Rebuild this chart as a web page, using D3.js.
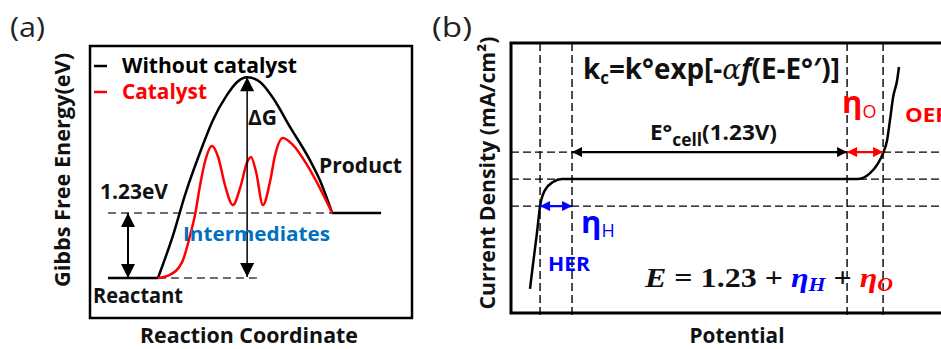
<!DOCTYPE html>
<html><head><meta charset="utf-8">
<script src="https://cdn.jsdelivr.net/npm/d3@7"></script>
<style>
html,body{margin:0;padding:0;background:#fff;overflow:hidden}
svg{display:block}
text{font-family:"Open Sans","Noto Sans",sans-serif;font-weight:700;fill:#111}
</style></head><body>
<svg id="fig" width="941" height="349"></svg>
<script>
// ---------- Panel (a): energy profile, reaction coordinate (0–10) vs. Gibbs free energy (eV)
const uncatCoord  = [2.11, 2.58, 2.95, 3.42, 3.82, 4.25, 4.57, 4.88, 5.28, 5.68, 6.21, 6.83, 7.14, 7.52];
const uncatEnergy = [0.00, 0.81, 1.57, 2.38, 2.99, 3.46, 3.71, 3.80, 3.71, 3.41, 2.86, 2.23, 1.85, 1.23];
const catCoord    = [2.11, 2.48, 2.86, 3.11, 3.26, 3.42, 3.57, 3.79, 3.98, 4.19, 4.44, 4.66, 4.88, 5.00, 5.16, 5.37, 5.59, 5.75, 5.99, 6.30, 6.74, 7.14, 7.52];
const catEnergy   = [0.00, 0.06, 0.30, 0.81, 1.19, 1.76, 2.20, 2.50, 2.29, 1.76, 1.38, 1.70, 2.19, 2.29, 2.00, 1.38, 1.82, 2.33, 2.65, 2.52, 2.14, 1.70, 1.23];
const levelNames  = ["Reactant", "Product"];
const levelEnergy = [0, 1.23];
const levelStart  = [0.56, 7.52];
const levelEnd    = [2.11, 9.04];
const legendNames = ["Without catalyst", "Catalyst"];
const deltaGCoord = 4.88;   // where the ΔG arrow stands
const gapCoord    = 1.18;   // where the 1.23 eV arrow stands

// ---------- Panel (b): polarization curve, potential (V) vs. current density (mA/cm²)
const potential      = [-0.188, -0.174, -0.157, -0.143, -0.121, -0.085, -0.045, 0.000, 1.230, 1.275, 1.333, 1.369, 1.391, 1.409, 1.422, 1.436, 1.454, 1.462];
const currentDensity = [-40.7, -31.1, -20.0, -10.0, -4.1, -1.1, 0.0, 0.0, 0.0, 0.0, 2.2, 5.9, 9.6, 14.4, 21.9, 30.4, 36.7, 41.5];
const eCell = 1.23, etaH = 0.143, etaO = 0.161;
const jLevels = [10, 0, -10];

const RED = "#ff0000", BLUE = "#0000ff", MIDBLUE = "#0070c0";
const svg = d3.select("#fig");

// arrowhead markers
const defs = svg.append("defs");
function marker(id, color, len, wid) {
  defs.append("marker").attr("id", id)
    .attr("viewBox", "0 0 10 10").attr("refX", 10).attr("refY", 5)
    .attr("markerUnits", "userSpaceOnUse")
    .attr("markerWidth", len).attr("markerHeight", wid)
    .attr("orient", "auto-start-reverse")
    .append("path").attr("d", "M0,0L10,5L0,10Z").attr("fill", color);
}
marker("bigK", "#000", 15, 14);
marker("smK", "#000", 11, 10);
marker("smR", RED, 11, 10);
marker("smB", BLUE, 11, 10);

// ================= Panel (a) =================
const xA = d3.scaleLinear().domain([0, 10]).range([90, 412]);
const yA = d3.scaleLinear().domain([-0.757, 4.39]).range([318, 46]);
const gA = svg.append("g");

gA.append("rect").attr("x", xA(0)).attr("y", yA(4.39))
  .attr("width", xA(10) - xA(0)).attr("height", yA(-0.757) - yA(4.39))
  .attr("fill", "none").attr("stroke", "#000").attr("stroke-width", 2.5);

// dashed reference levels
gA.append("line").attr("x1", xA(levelStart[0])).attr("x2", xA(levelStart[1]))
  .attr("y1", yA(levelEnergy[1])).attr("y2", yA(levelEnergy[1]))
  .attr("stroke", "#6e6e6e").attr("stroke-width", 1.8).attr("stroke-dasharray", "8,5");
gA.append("line").attr("x1", xA(levelEnd[0])).attr("x2", xA(5.19))
  .attr("y1", yA(levelEnergy[0])).attr("y2", yA(levelEnergy[0]))
  .attr("stroke", "#6e6e6e").attr("stroke-width", 1.8).attr("stroke-dasharray", "8,5");

// reactant / product levels
levelNames.forEach((n, i) => {
  gA.append("line").attr("x1", xA(levelStart[i])).attr("x2", xA(levelEnd[i]))
    .attr("y1", yA(levelEnergy[i])).attr("y2", yA(levelEnergy[i]))
    .attr("stroke", "#000").attr("stroke-width", 2.5);
});

const lineA = d3.line().x(d => xA(d[0])).y(d => yA(d[1])).curve(d3.curveMonotoneX);
gA.append("path").attr("d", lineA(uncatCoord.map((c, i) => [c, uncatEnergy[i]])))
  .attr("fill", "none").attr("stroke", "#000").attr("stroke-width", 2.5);
gA.append("path").attr("d", lineA(catCoord.map((c, i) => [c, catEnergy[i]])))
  .attr("fill", "none").attr("stroke", RED).attr("stroke-width", 2.5);

// ΔG arrow
gA.append("line").attr("x1", xA(deltaGCoord)).attr("x2", xA(deltaGCoord))
  .attr("y1", yA(d3.max(uncatEnergy))).attr("y2", yA(0) - 1)
  .attr("stroke", "#000").attr("stroke-width", 1.5)
  .attr("marker-start", "url(#bigK)").attr("marker-end", "url(#bigK)");
// 1.23 eV arrow
gA.append("line").attr("x1", xA(gapCoord)).attr("x2", xA(gapCoord))
  .attr("y1", yA(levelEnergy[1])).attr("y2", yA(levelEnergy[0]))
  .attr("stroke", "#000").attr("stroke-width", 2)
  .attr("marker-start", "url(#bigK)").attr("marker-end", "url(#bigK)");

// legend
[["#000", 66, 73], [RED, 92, 99]].forEach(([c, ly, ty], i) => {
  gA.append("line").attr("x1", 94).attr("x2", 107).attr("y1", ly).attr("y2", ly)
    .attr("stroke", c).attr("stroke-width", 2.5);
  gA.append("text").attr("x", 122).attr("y", ty).attr("font-size", 21)
    .attr("textLength", i ? 85 : 175).attr("lengthAdjust", "spacingAndGlyphs")
    .style("fill", c).text(legendNames[i]);
});

function label(g, s, x, y, size, len, color, anchor) {
  const t = g.append("text").attr("x", x).attr("y", y).attr("font-size", size)
    .attr("textLength", len).attr("lengthAdjust", "spacingAndGlyphs").text(s);
  if (color) t.style("fill", color);
  if (anchor) t.attr("text-anchor", anchor);
  return t;
}
label(gA, "(a)", 10, 37, 27, 35).style("font-weight", 400).style("fill", "#222");
label(gA, "1.23eV", 100, 199, 21, 68);
label(gA, "ΔG", 248, 125, 21, 29);
label(gA, "Product", 319, 173, 21, 83);
label(gA, "Intermediates", 183, 241, 20, 147, MIDBLUE);
label(gA, levelNames[0], 93, 303, 21, 90);
label(gA, "Reaction Coordinate", 249, 343, 21, 218, null, "middle");
gA.append("text").attr("transform", "translate(70,170) rotate(-90)")
  .attr("text-anchor", "middle").attr("font-size", 21)
  .attr("textLength", 234).attr("lengthAdjust", "spacingAndGlyphs")
  .text("Gibbs Free Energy(eV)");

// ================= Panel (b) =================
const xB = d3.scaleLinear().domain([-0.273, 1.65]).range([511, 941]);
const yB = d3.scaleLinear().domain([-49.6, 50.4]).range([313, 43]);
const gB = svg.append("g");

const dashB = "8,4";
const vLines = [-etaH, 0, eCell, eCell + etaO];
vLines.forEach(v => {
  gB.append("line").attr("x1", xB(v)).attr("x2", xB(v))
    .attr("y1", yB(50.4)).attr("y2", yB(-49.6) + 4)
    .attr("stroke", "#000").attr("stroke-width", 1.4).attr("stroke-dasharray", dashB);
});
jLevels.forEach(j => {
  gB.append("line").attr("x1", 511).attr("x2", 960)
    .attr("y1", yB(j)).attr("y2", yB(j))
    .attr("stroke", "#000").attr("stroke-width", 1.4).attr("stroke-dasharray", dashB);
});

// frame (open to the right edge)
gB.append("path")
  .attr("d", `M960,${yB(50.4)}H${xB(-0.273)}V${yB(-49.6)}H960`)
  .attr("fill", "none").attr("stroke", "#000").attr("stroke-width", 3);

const lineB = d3.line().x(d => xB(d[0])).y(d => yB(d[1])).curve(d3.curveMonotoneX);
gB.append("path").attr("d", lineB(potential.map((p, i) => [p, currentDensity[i]])))
  .attr("fill", "none").attr("stroke", "#000").attr("stroke-width", 2.5);

// overpotential / cell-voltage arrows
function hArrow(x0, x1, y, color, m) {
  gB.append("line").attr("x1", xB(x0)).attr("x2", xB(x1)).attr("y1", yB(y)).attr("y2", yB(y))
    .attr("stroke", color).attr("stroke-width", 2.2)
    .attr("marker-start", `url(#${m})`).attr("marker-end", `url(#${m})`);
}
hArrow(-etaH, 0, jLevels[2], BLUE, "smB");
hArrow(0, eCell, jLevels[0], "#000", "smK");
hArrow(eCell, eCell + etaO, jLevels[0], RED, "smR");

label(gB, "(b)", 432, 37, 27, 40).style("font-weight", 400).style("fill", "#222");
label(gB, "Potential", 737, 343, 21, 95, null, "middle");
gB.append("text").attr("transform", "translate(495,173) rotate(-90)")
  .attr("text-anchor", "middle").attr("font-size", 21)
  .attr("textLength", 273).attr("lengthAdjust", "spacingAndGlyphs")
  .text("Current Density (mA/cm²)");

// rate expression
const kt = gB.append("text").attr("x", 583).attr("y", 79).attr("font-size", 28)
  .attr("textLength", 257).attr("lengthAdjust", "spacingAndGlyphs");
kt.append("tspan").text("k");
kt.append("tspan").attr("font-size", 17).attr("dy", 5).text("c");
kt.append("tspan").attr("dy", -5).text("=k°exp[-");
kt.append("tspan").style("font-family", "'DejaVu Serif',serif").style("font-style", "italic").style("font-weight", 400).text("α");
kt.append("tspan").style("font-style", "italic").text("f");
kt.append("tspan").text("(E-E°′)]");

// standard cell potential
const et = gB.append("text").attr("x", 650).attr("y", 140).attr("font-size", 22)
  .attr("textLength", 127).attr("lengthAdjust", "spacingAndGlyphs");
et.append("tspan").text("E°");
et.append("tspan").attr("font-size", 17).attr("dy", 6).text("cell");
et.append("tspan").attr("dy", -6).text("(1.23V)");

// overpotential symbols
function eta(x, y, sub, color, sy) {
  const t = gB.append("text").attr("x", x).attr("y", y).style("fill", color);
  t.append("tspan").attr("font-size", 31).text("η");
  t.append("tspan").attr("font-size", 18).style("font-weight", 400).attr("dy", sy).text(sub);
}
eta(842, 113, "O", RED, 5);
eta(581, 233, "H", BLUE, 4);
label(gB, "OER", 905, 122, 19, 45, RED);
label(gB, "HER", 548, 271, 20, 42, BLUE);

// overall voltage relation
const eq = gB.append("text").attr("x", 645).attr("y", 287).attr("font-size", 28)
  .style("font-family", "'Liberation Serif','DejaVu Serif',serif")
  .attr("textLength", 248).attr("lengthAdjust", "spacingAndGlyphs");
eq.append("tspan").style("font-style", "italic").text("E");
eq.append("tspan").text(" = 1.23 + ");
eq.append("tspan").style("font-style", "italic").style("fill", BLUE).text("η");
eq.append("tspan").style("font-style", "italic").style("fill", BLUE).attr("font-size", 19).attr("dy", 4).text("H");
eq.append("tspan").attr("dy", -4).text(" + ");
eq.append("tspan").style("font-style", "italic").style("fill", RED).text("η");
eq.append("tspan").style("font-style", "italic").style("fill", RED).attr("font-size", 19).attr("dy", 4).text("O");
</script>
</body></html>
